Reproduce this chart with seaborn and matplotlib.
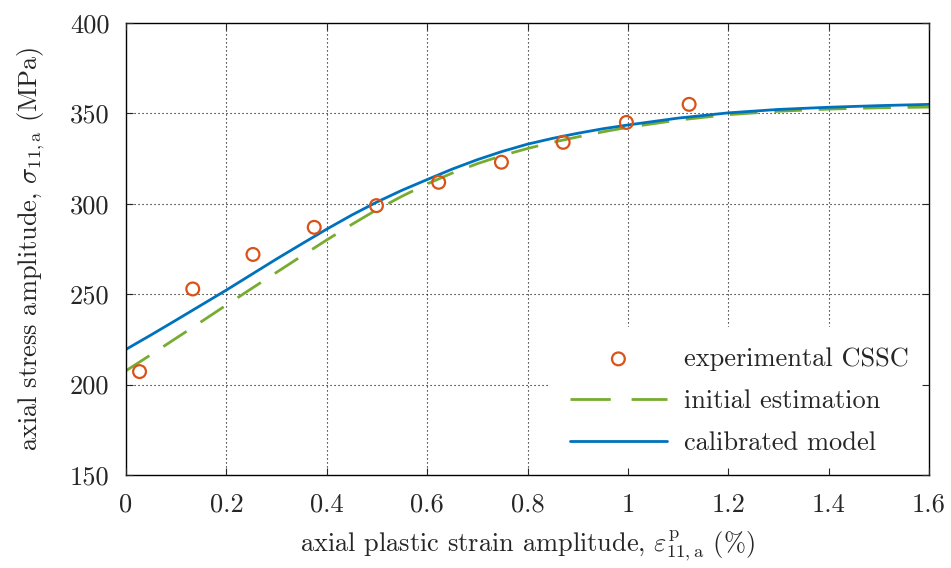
import numpy as np
import pandas as pd
import matplotlib
matplotlib.use("Agg")
import matplotlib.pyplot as plt
import seaborn as sns

# Experimental cyclic stress-strain curve points
exp_strain = [0.027, 0.133, 0.253, 0.375, 0.499, 0.623, 0.748, 0.871, 0.997, 1.122]
exp_stress = [207.2, 252.9, 272.0, 287.0, 299.0, 311.9, 323.0, 334.0, 345.0, 355.0]

# Model curves sampled along the strain axis
model_strain = [0.0, 0.05, 0.1, 0.15, 0.2, 0.25, 0.3, 0.35, 0.4, 0.45, 0.5, 0.55,
                0.6, 0.65, 0.7, 0.75, 0.8, 0.85, 0.9, 0.95, 1.0, 1.1, 1.2, 1.3,
                1.4, 1.5, 1.6]
initial_stress = [207.7, 216.6, 225.7, 234.8, 244.0, 253.1, 262.1, 271.1, 280.0,
                  288.6, 296.8, 304.2, 311.0, 317.0, 322.2, 326.7, 330.6, 334.0,
                  337.0, 339.8, 342.3, 346.3, 349.3, 351.2, 352.4, 353.1, 353.5]
calibrated_stress = [219.5, 227.5, 235.7, 244.0, 252.3, 260.9, 269.5, 277.8, 286.0,
                     293.8, 301.0, 307.5, 313.4, 319.2, 324.4, 329.0, 333.0, 336.2,
                     339.0, 341.5, 343.6, 347.4, 350.3, 352.2, 353.4, 354.3, 355.0]

x_ticks = [0, 0.2, 0.4, 0.6, 0.8, 1.0, 1.2, 1.4, 1.6]
x_tick_labels = ["0", "0.2", "0.4", "0.6", "0.8", "1", "1.2", "1.4", "1.6"]
y_ticks = [150, 200, 250, 300, 350, 400]
y_tick_labels = ["150", "200", "250", "300", "350", "400"]

sns.set_style("ticks")
plt.rcParams["font.family"] = ["cmr10"]
plt.rcParams["mathtext.fontset"] = "cm"
plt.rcParams["axes.formatter.use_mathtext"] = True
plt.rcParams["font.size"] = 19

FS = 19
c_exp = "#D95319"
c_init = "#77AC30"
c_cal = "#0072BD"

fig = plt.figure(figsize=(9.51, 5.68), dpi=100)
ax = fig.add_axes([0.1325, 0.1637, 0.8444, 0.7958])

exp_df = pd.DataFrame({"strain": exp_strain, "stress": exp_stress})
mod_df = pd.DataFrame({"strain": model_strain,
                       "initial": initial_stress,
                       "calibrated": calibrated_stress})

# dotted grid drawn beneath everything, so the legend box can hide it
grid_style = dict(color="black", linewidth=0.8, linestyle=(0, (1, 2.6)), zorder=0.5)
for xv in x_ticks[1:-1]:
    ax.axvline(xv, **grid_style)
for yv in y_ticks[1:-1]:
    ax.axhline(yv, **grid_style)

sns.scatterplot(data=exp_df, x="strain", y="stress", ax=ax, marker="o",
                s=85, facecolor="none", edgecolor=c_exp, linewidth=1.6,
                label="experimental CSSC", zorder=4)
sns.lineplot(data=mod_df, x="strain", y="initial", ax=ax, color=c_init,
             linewidth=2.0, label="initial estimation", zorder=3)
ax.lines[-1].set_dashes((10.0, 6.0))
sns.lineplot(data=mod_df, x="strain", y="calibrated", ax=ax, color=c_cal,
             linewidth=2.0, label="calibrated model", zorder=3)

ax.set_xlim(0, 1.6)
ax.set_ylim(150, 400)
ax.set_xticks(x_ticks)
ax.set_xticklabels(x_tick_labels)
ax.set_yticks(y_ticks)
ax.set_yticklabels(y_tick_labels)
ax.tick_params(direction="in", length=5, width=0.8, top=True, right=True,
               labelsize=FS)
ax.tick_params(axis="x", pad=13)
ax.tick_params(axis="y", pad=12)
# ticks and frame stay visible above the legend box
ax.xaxis.set_zorder(6)
ax.yaxis.set_zorder(6)
for s in ax.spines.values():
    s.set_linewidth(1.0)
    s.set_color("black")
    s.set_zorder(6)

ax.set_xlabel(r"axial plastic strain amplitude, $\varepsilon^{\mathrm{p}}_{11,\mathrm{a}}$ (%)",
              fontsize=FS, labelpad=8)
ax.set_ylabel(r"axial stress amplitude, $\sigma_{11,\mathrm{a}}$ (MPa)",
              fontsize=FS, labelpad=16)

leg = ax.legend(loc="lower right", frameon=True, fancybox=False, fontsize=FS,
                handlelength=3.65, handletextpad=0.68, borderaxespad=0.0,
                borderpad=0.75, labelspacing=0.7)
leg.get_frame().set_edgecolor("white")
leg.get_frame().set_facecolor("white")
leg.get_frame().set_alpha(1.0)
leg.set_zorder(5)
leg.legend_handles[1].set_dashes((14.5, 7.5))

fig.savefig("out.png", dpi=100)
